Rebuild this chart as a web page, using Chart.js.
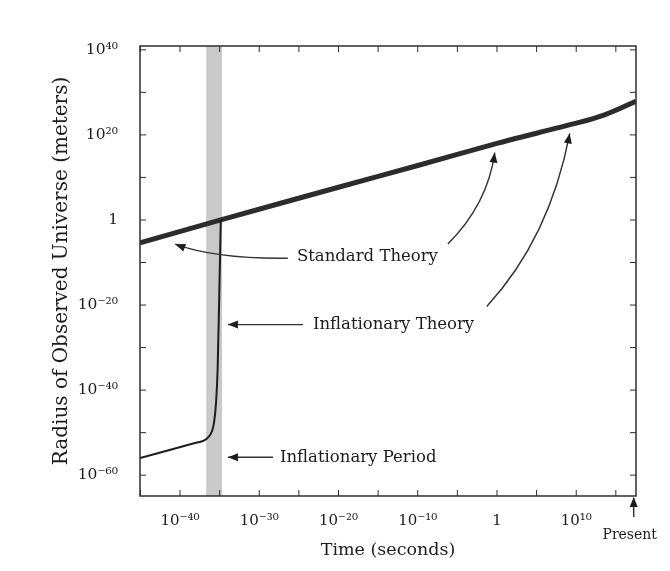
<!DOCTYPE html>
<html>
<head>
<meta charset="utf-8">
<title>Radius of Observed Universe</title>
<script src="https://cdn.jsdelivr.net/npm/chart.js@4.4.1/dist/chart.umd.min.js"></script>
<style>
  html, body { margin: 0; padding: 0; background: #fff; }
  #grafico { display: block; }
</style>
</head>
<body>
<canvas id="grafico" width="670" height="571"></canvas>
<script>
// Data (time in seconds, radius in meters)
const tempoPadrao = [8.9e-46, 1.4e-35, 1e-20, 1e-10, 1, 1e5, 1.6e9, 2e13, 3.5e17];
const raioPadrao  = [4e-6, 1, 5e7, 6.3e12, 1e18, 2.5e20, 2.5e22, 3.5e24, 8e27];

const tempoInflacao = [8.9e-46, 1e-38, 1e-37, 4e-37, 1e-36, 2e-36, 3.5e-36, 5.6e-36, 8.9e-36, 1.4e-35];
const raioInflacao  = [1e-56, 4e-53, 1.3e-52, 1e-51, 1.6e-50, 3e-48, 1e-43, 1e-35, 1e-18, 1];

const periodoInflacionario = [2e-37, 2e-35];   // shaded band
const tempoPresente = 1.8e17;

// ticks
const rotulosX = [1e-40, 1e-30, 1e-20, 1e-10, 1, 1e10];
const rotulosY = [1e-60, 1e-40, 1e-20, 1, 1e20, 1e40];
const marcasX = [1e-45, 1e-40, 1e-35, 1e-30, 1e-25, 1e-20, 1e-15, 1e-10, 1e-5, 1, 1e5, 1e10, 1e15];
const marcasY = [1e-60, 1e-50, 1e-40, 1e-30, 1e-20, 1e-10, 1, 1e10, 1e20, 1e30, 1e40];

const fonteSerif = '"DejaVu Serif", "Liberation Serif", serif';
const corTexto = '#1c1c1c';

function pontos(xs, ys) {
    return xs.map((x, i) => ({ x: x, y: ys[i] }));
}

// 10^n written with unicode superscripts
function formatarPotencia(valor) {
    const n = Math.round(Math.log10(valor));
    if (n === 0) return '1';
    const sup = { '-': '\u207B', '0': '\u2070', '1': '\u00B9', '2': '\u00B2', '3': '\u00B3', '4': '\u2074',
                  '5': '\u2075', '6': '\u2076', '7': '\u2077', '8': '\u2078', '9': '\u2079' };
    return '10' + String(n).split('').map(c => sup[c]).join('');
}

// gray band behind the curves
const pluginFaixa = {
    id: 'faixa',
    beforeDatasetsDraw(chart) {
        const { ctx, chartArea, scales } = chart;
        const x0 = scales.x.getPixelForValue(periodoInflacionario[0]);
        const x1 = scales.x.getPixelForValue(periodoInflacionario[1]);
        ctx.save();
        ctx.fillStyle = '#c9c9c9';
        ctx.fillRect(x0, chartArea.top, x1 - x0, chartArea.bottom - chartArea.top);
        ctx.restore();
    }
};

function ponta(ctx, de, para) {
    const ang = Math.atan2(para.y - de.y, para.x - de.x);
    ctx.beginPath();
    ctx.moveTo(para.x, para.y);
    ctx.lineTo(para.x - 10 * Math.cos(ang) + 4 * Math.sin(ang), para.y - 10 * Math.sin(ang) - 4 * Math.cos(ang));
    ctx.lineTo(para.x - 10 * Math.cos(ang) - 4 * Math.sin(ang), para.y - 10 * Math.sin(ang) + 4 * Math.cos(ang));
    ctx.closePath();
    ctx.fill();
}

// frame, inward tick marks and the labels with arrows
const pluginMoldura = {
    id: 'moldura',
    afterDraw(chart) {
        const { ctx, chartArea: a, scales } = chart;
        // position from exponents (log10 t, log10 R)
        const px = (et, er) => ({ x: scales.x.getPixelForValue(Math.pow(10, et)), y: scales.y.getPixelForValue(Math.pow(10, er)) });

        ctx.save();
        ctx.strokeStyle = '#2e2e2e';
        ctx.lineWidth = 1.5;
        ctx.strokeRect(a.left, a.top, a.right - a.left, a.bottom - a.top);

        ctx.lineWidth = 1;
        marcasX.forEach(v => {
            const x = scales.x.getPixelForValue(v);
            ctx.beginPath();
            ctx.moveTo(x, a.bottom); ctx.lineTo(x, a.bottom - 6);
            ctx.moveTo(x, a.top); ctx.lineTo(x, a.top + 6);
            ctx.stroke();
        });
        marcasY.forEach(v => {
            const y = scales.y.getPixelForValue(v);
            ctx.beginPath();
            ctx.moveTo(a.left, y); ctx.lineTo(a.left + 6, y);
            ctx.moveTo(a.right, y); ctx.lineTo(a.right - 6, y);
            ctx.stroke();
        });

        ctx.fillStyle = corTexto;
        ctx.strokeStyle = '#333';
        ctx.lineWidth = 1.4;
        ctx.font = '16.5px ' + fonteSerif;
        ctx.textBaseline = 'middle';
        ctx.textAlign = 'left';

        // Standard Theory
        let t = px(-25.25, -8.75);
        ctx.fillText('Standard Theory', t.x, t.y);
        let p0 = px(-26.4, -9.0), c = px(-35.5, -9.2), p1 = px(-40.6, -5.7);
        ctx.beginPath(); ctx.moveTo(p0.x, p0.y); ctx.quadraticCurveTo(c.x, c.y, p1.x, p1.y); ctx.stroke();
        ponta(ctx, c, p1);

        p0 = px(-6.2, -5.67); c = px(-1.16, 3.78); p1 = px(-0.28, 15.84);
        ctx.beginPath(); ctx.moveTo(p0.x, p0.y); ctx.quadraticCurveTo(c.x, c.y, p1.x, p1.y); ctx.stroke();
        ponta(ctx, c, p1);

        // Inflationary Theory
        t = px(-23.23, -24.6);
        ctx.fillText('Inflationary Theory', t.x, t.y);
        p0 = px(-24.49, -24.6); p1 = px(-33.95, -24.6);
        ctx.beginPath(); ctx.moveTo(p0.x, p0.y); ctx.lineTo(p1.x, p1.y); ctx.stroke();
        ponta(ctx, p0, p1);

        p0 = px(-1.29, -20.33); c = px(6.66, -4.26); p1 = px(9.18, 20.33);
        ctx.beginPath(); ctx.moveTo(p0.x, p0.y); ctx.quadraticCurveTo(c.x, c.y, p1.x, p1.y); ctx.stroke();
        ponta(ctx, c, p1);

        // Inflationary Period
        t = px(-27.39, -55.8);
        ctx.fillText('Inflationary Period', t.x, t.y);
        p0 = px(-28.27, -55.8); p1 = px(-33.95, -55.8);
        ctx.beginPath(); ctx.moveTo(p0.x, p0.y); ctx.lineTo(p1.x, p1.y); ctx.stroke();
        ponta(ctx, p0, p1);

        // Present
        const xp = scales.x.getPixelForValue(tempoPresente);
        ctx.beginPath(); ctx.moveTo(xp, a.bottom + 21); ctx.lineTo(xp, a.bottom + 2); ctx.stroke();
        ponta(ctx, { x: xp, y: a.bottom + 21 }, { x: xp, y: a.bottom + 1 });
        ctx.textAlign = 'center';
        ctx.font = '14px ' + fonteSerif;
        ctx.fillText('Present', xp - 4, a.bottom + 39);
        ctx.restore();
    }
};

const ctx = document.getElementById('grafico').getContext('2d');

window.meuGrafico = new Chart(ctx, {
    type: 'scatter',
    data: {
        datasets: [{
            label: 'Inflationary Theory',
            data: pontos(tempoInflacao, raioInflacao),
            showLine: true,
            borderColor: '#1c1c1c',
            borderWidth: 2,
            pointRadius: 0,
            cubicInterpolationMode: 'monotone'
        }, {
            label: 'Standard Theory',
            data: pontos(tempoPadrao, raioPadrao),
            showLine: true,
            borderColor: '#2c2c2c',
            borderWidth: 5,
            pointRadius: 0,
            tension: 0.4
        }]
    },
    options: {
        responsive: false,
        animation: false,
        layout: { padding: { top: 46, right: 34, left: 0, bottom: 0 } },
        plugins: {
            legend: { display: false },
            tooltip: { enabled: false }
        },
        scales: {
            x: {
                type: 'logarithmic',
                min: 8.9e-46,
                max: 3.5e17,
                afterBuildTicks: s => { s.ticks = rotulosX.map(v => ({ value: v })); },
                afterFit: s => { s.height = 75; },
                grid: { display: false },
                border: { display: false },
                ticks: { callback: formatarPotencia, autoSkip: false, maxRotation: 0, padding: 8,
                         color: corTexto, font: { family: fonteSerif, size: 15 } },
                title: { display: true, text: 'Time (seconds)', color: corTexto,
                         font: { family: fonteSerif, size: 17.5 }, padding: { top: 0, bottom: 10 } }
            },
            y: {
                type: 'logarithmic',
                min: 1.26e-65,
                max: 8e40,
                afterBuildTicks: s => { s.ticks = rotulosY.map(v => ({ value: v })); },
                afterFit: s => { s.width = 140; },
                grid: { display: false },
                border: { display: false },
                ticks: { callback: formatarPotencia, autoSkip: false, padding: 14,
                         color: corTexto, font: { family: fonteSerif, size: 15.5 } },
                title: { display: true, text: 'Radius of Observed Universe (meters)', color: corTexto,
                         font: { family: fonteSerif, size: 20 }, padding: { top: 50, bottom: 0 } }
            }
        }
    },
    plugins: [pluginFaixa, pluginMoldura]
});
</script>
</body>
</html>
